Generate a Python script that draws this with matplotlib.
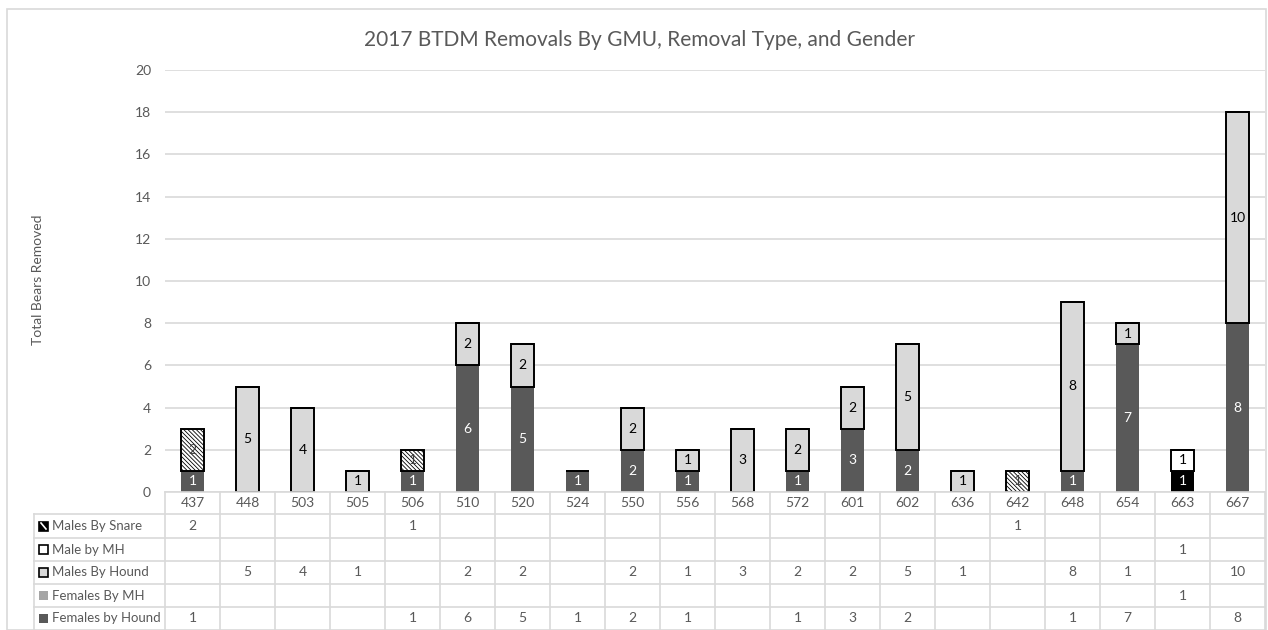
import numpy as np
import matplotlib
matplotlib.use("Agg")
import matplotlib.pyplot as plt
from matplotlib.patches import Rectangle
from matplotlib.transforms import blended_transform_factory

gmu = ['437', '448', '503', '505', '506', '510', '520', '524', '550', '556',
       '568', '572', '601', '602', '636', '642', '648', '654', '663', '667']
females_hound = [1, 0, 0, 0, 1, 6, 5, 1, 2, 1, 0, 1, 3, 2, 0, 0, 1, 7, 0, 8]
females_mh = [0, 0, 0, 0, 0, 0, 0, 0, 0, 0, 0, 0, 0, 0, 0, 0, 0, 0, 1, 0]
males_hound = [0, 5, 4, 1, 0, 2, 2, 0, 2, 1, 3, 2, 2, 5, 1, 0, 8, 1, 0, 10]
male_mh = [0, 0, 0, 0, 0, 0, 0, 0, 0, 0, 0, 0, 0, 0, 0, 0, 0, 0, 1, 0]
males_snare = [2, 0, 0, 0, 1, 0, 0, 0, 0, 0, 0, 0, 0, 0, 0, 1, 0, 0, 0, 0]

plt.rcParams['font.family'] = ['Lato', 'DejaVu Sans']
plt.rcParams['hatch.linewidth'] = 0.6

W, H = 1268, 630
fig = plt.figure(figsize=(W / 100, H / 100), dpi=100)
fig.patch.set_facecolor('white')

txt = '#595959'
grid = '#d9d9d9'
fs = 10

# plot area in pixels: left 165, right 1265, top 70, bottom 492
ax = fig.add_axes([165 / W, (H - 492) / H, 1100 / W, 422 / H])
x = np.arange(len(gmu))
w = 0.42

# series, stacked bottom -> top
series = [
    ('Females by Hound', females_hound, dict(color='#595959', edgecolor='none'), 'white'),
    ('Females By MH', females_mh, dict(color='#000000', edgecolor='none'), 'white'),
    ('Males By Hound', males_hound, dict(color='#d9d9d9', edgecolor='black', linewidth=1.4), 'black'),
    ('Male by MH', male_mh, dict(color='white', edgecolor='black', linewidth=1.4), 'black'),
    ('Males By Snare', males_snare, dict(color='white', edgecolor='black', linewidth=1.4,
                                         hatch='\\\\\\\\\\\\\\\\'), '#404040'),
]

bottom = np.zeros(len(gmu))
for name, vals, style, lc in series:
    vals = np.array(vals)
    bars = ax.bar(x, vals, w, bottom=bottom, zorder=3, **style)
    labels = [str(v) if v > 0 else '' for v in vals]
    ax.bar_label(bars, labels=labels, label_type='center', color=lc, fontsize=fs, zorder=4)
    bottom = bottom + vals

ax.set_xlim(-0.5, len(gmu) - 0.5)
ax.set_ylim(0, 20)
ax.set_yticks(range(0, 21, 2))
ax.yaxis.grid(True, color=grid, linewidth=1.2, zorder=0)
ax.set_axisbelow(True)
for s in ax.spines.values():
    s.set_visible(False)
ax.tick_params(axis='y', length=0, labelsize=fs, labelcolor=txt, pad=10)
ax.set_xticks([])

fig.text(38 / W, 1 - 280 / H, 'Total Bears Removed', rotation=90, ha='center', va='center',
         fontsize=fs, color=txt)
fig.text(640 / W, 1 - 40 / H, '2017 BTDM Removals By GMU, Removal Type, and Gender',
         ha='center', va='center', fontsize=15, color=txt)

# chart border
fig.patches.append(Rectangle((7 / W, 0), 1259 / W, 1 - 9 / H, transform=fig.transFigure,
                             fill=False, edgecolor=grid, linewidth=1.2))

# data table under the plot
tr = blended_transform_factory(ax.transData, fig.transFigure)
def fy(p):
    return 1 - p / H

row_edges = [492, 514, 538, 561, 584, 607, 630]
table_rows = [
    ('Males By Snare', males_snare),
    ('Male by MH', male_mh),
    ('Males By Hound', males_hound),
    ('Females By MH', females_mh),
    ('Females by Hound', females_hound),
]
key_style = [
    dict(facecolor='black', edgecolor='black'),
    dict(facecolor='white', edgecolor='black'),
    dict(facecolor='#d9d9d9', edgecolor='black'),
    dict(facecolor='#a5a5a5', edgecolor='none'),
    dict(facecolor='#595959', edgecolor='none'),
]

# horizontal lines
ax_l = 165
ax_r = 1265
fig.add_artist(plt.Line2D([ax_l / W, ax_r / W], [fy(492), fy(492)], color=grid, lw=1.2))
for yy in row_edges[1:-1]:
    fig.add_artist(plt.Line2D([34 / W, ax_r / W], [fy(yy), fy(yy)], color=grid, lw=1.2))
# vertical lines
fig.add_artist(plt.Line2D([34 / W, 34 / W], [fy(514), 0], color=grid, lw=1.2))
for i in range(len(gmu) + 1):
    xe = i - 0.5
    fig.add_artist(plt.Line2D([xe, xe], [fy(492), 0], color=grid, lw=1.2, transform=tr))

for i, g in enumerate(gmu):
    fig.text(i, fy(503), g, transform=tr, ha='center', va='center', fontsize=fs, color=txt)

for r, (name, vals) in enumerate(table_rows):
    yc = (row_edges[r + 1] + row_edges[r + 2]) / 2
    ks = 9
    fig.patches.append(Rectangle((39 / W, fy(yc + ks / 2)), ks / W, ks / H,
                                 transform=fig.transFigure, linewidth=1.2, **key_style[r]))
    if r == 0:
        fig.add_artist(plt.Line2D([41 / W, 46 / W], [fy(yc - 3), fy(yc + 3)], color='white', lw=1.2))
    fig.text(52 / W, fy(yc), name, ha='left', va='center', fontsize=9.5, color=txt)
    for i, v in enumerate(vals):
        if v > 0:
            fig.text(i, fy(yc), str(v), transform=tr, ha='center', va='center',
                     fontsize=fs, color=txt)

fig.savefig('out.png', dpi=100)
